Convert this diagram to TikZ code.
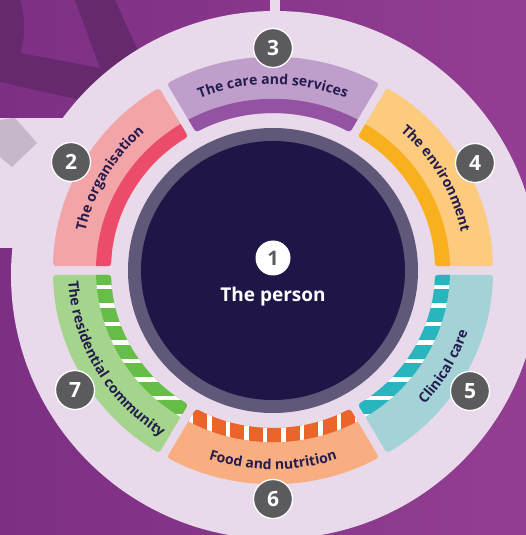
\documentclass[tikz,border=0pt]{standalone}
\usepackage{fontspec}
\setmainfont{Open Sans}
\usetikzlibrary{decorations.text}
\definecolor{bgL}{HTML}{7C2F83}
\definecolor{bgR}{HTML}{943E93}
\definecolor{bgD}{HTML}{67296E}
\definecolor{disk}{HTML}{E8D9EB}
\definecolor{diam}{HTML}{C6B7CA}
\definecolor{ring}{HTML}{5F5878}
\definecolor{core}{HTML}{1F1547}
\definecolor{numc}{HTML}{5B5B5D}
\definecolor{txt}{HTML}{241B4F}
\definecolor{careL}{HTML}{C09ECC}
\definecolor{careD}{HTML}{9353A2}
\definecolor{orgL}{HTML}{F3A4A7}
\definecolor{orgD}{HTML}{EA4C6A}
\definecolor{envL}{HTML}{FDCB7E}
\definecolor{envD}{HTML}{F8B01E}
\definecolor{cliL}{HTML}{A3D2D7}
\definecolor{cliD}{HTML}{29B5BD}
\definecolor{foodL}{HTML}{F8AE80}
\definecolor{foodD}{HTML}{EB652B}
\definecolor{resL}{HTML}{A5D58C}
\definecolor{resD}{HTML}{66BD47}
\newcommand\lblfont{\bfseries\fontsize{14}{16}\selectfont}
\newcommand\segclip[1]{\clip[rounded corners=3pt] ({#1+28.83}:220) arc[start angle={#1+28.83}, end angle={#1-28.83}, radius=220] -- ({#1-28.41}:162) arc[start angle={#1-28.41}, end angle={#1+28.41}, radius=162] -- cycle;}
\tikzset{
  num/.style={circle, fill=numc, draw=white, line width=1.3pt, minimum size=39pt, inner sep=0pt, text=white, font=\bfseries\fontsize{21}{21}\selectfont},
  toplbl/.style={decorate, decoration={text along path, text={|\lblfont|#1}, text align=center, text color=txt}},
  stripe/.style={draw=white, line width=4.5pt}
}
\begin{document}
\begin{tikzpicture}[x=1pt,y=1pt]
\useasboundingbox (-273,-264.5) rectangle (253,270.5);
\shade[left color=bgL, right color=bgR] (-273,-264.5) rectangle (253,270.5);
% decorative background, image coordinates
\begin{scope}[shift={(-273,270.5)}, yscale=-1]
  \fill[bgD] (0,0) -- (20,0) .. controls (25,15) and (26,38) .. (20,53) -- (100,68) -- (75,0) -- (115,0) -- (140,55) -- (120,110) -- (80,100) -- (0,82) -- cycle;
  \fill[disk] (0,118) rectangle (80,248);
  \fill[disk] (270,0) rectangle (280,20);
  \fill[disk] (275,275) circle (264);
  \fill[diam] (0,120) -- (15,118) -- (37,143) -- (12,167) -- (0,157) -- cycle;
\end{scope}
% segments
\begin{scope}[yscale=0.97]
  \begin{scope}\segclip{90}\fill[careL] (0,0) circle (225);\fill[careD] (0,0) circle (177);\end{scope}
  \begin{scope}\segclip{150}\fill[orgL] (0,0) circle (225);\fill[orgD] (0,0) circle (177);\end{scope}
  \begin{scope}\segclip{30}\fill[envL] (0,0) circle (225);\fill[envD] (0,0) circle (177);\end{scope}
  \begin{scope}\segclip{-30}\fill[cliL] (0,0) circle (225);\fill[cliD] (0,0) circle (177);
    \clip (0,0) circle (177);
    \foreach \k in {0,...,8} \draw[stripe] (60,{(-16.5-18.5*\k)/0.97}) -- (230,{(-16.5-18.5*\k)/0.97});
  \end{scope}
  \begin{scope}\segclip{-150}\fill[resL] (0,0) circle (225);\fill[resD] (0,0) circle (177);
    \clip (0,0) circle (177);
    \foreach \k in {0,...,8} \draw[stripe] (-230,{(-16.5-18.5*\k)/0.97}) -- (-60,{(-16.5-18.5*\k)/0.97});
  \end{scope}
  \begin{scope}\segclip{-90}\fill[foodL] (0,0) circle (225);\fill[foodD] (0,0) circle (177);
    \clip (0,0) circle (177);
    \foreach \k in {0,...,9} \draw[stripe] ({-82+18.5*\k},-100) -- ({-82+18.5*\k},-240);
  \end{scope}
  % labels
  \path[toplbl={The care and services}] (120:192) arc[start angle=120, end angle=60, radius=192];
  \path[toplbl={The organisation}] (180:192) arc[start angle=180, end angle=120, radius=192];
  \path[toplbl={The environment}] (60:192) arc[start angle=60, end angle=0, radius=192];
  \path[toplbl={Food and nutrition}] (-120:205) arc[start angle=-120, end angle=-60, radius=205];
  \path[toplbl={Clinical care}] (-60:205) arc[start angle=-60, end angle=0, radius=205];
  \path[toplbl={The residential community}] (-180:205) arc[start angle=-180, end angle=-120, radius=205];
\end{scope}
% centre
\fill[ring] (0,0) ellipse [x radius=145, y radius=142.5];
\fill[core] (0,0) ellipse [x radius=132, y radius=129.5];
\node[circle, fill=white, minimum size=35pt, inner sep=0pt, text=numc, font=\bfseries\fontsize{20}{20}\selectfont] (p1) at (0,12.5) {1};
\node[anchor=base, text=white, font=\bfseries\fontsize{19}{22}\selectfont] (person) at (0,-31.5) {The person};
% numbers
\node[num] (n3) at (0,222.5) {3};
\node[num] (n2) at (-202,108.5) {2};
\node[num] (n4) at (202,107.5) {4};
\node[num] (n5) at (197,-120.5) {5};
\node[num] (n6) at (0,-228.5) {6};
\node[num] (n7) at (-198,-119.5) {7};
\end{tikzpicture}
\end{document}
